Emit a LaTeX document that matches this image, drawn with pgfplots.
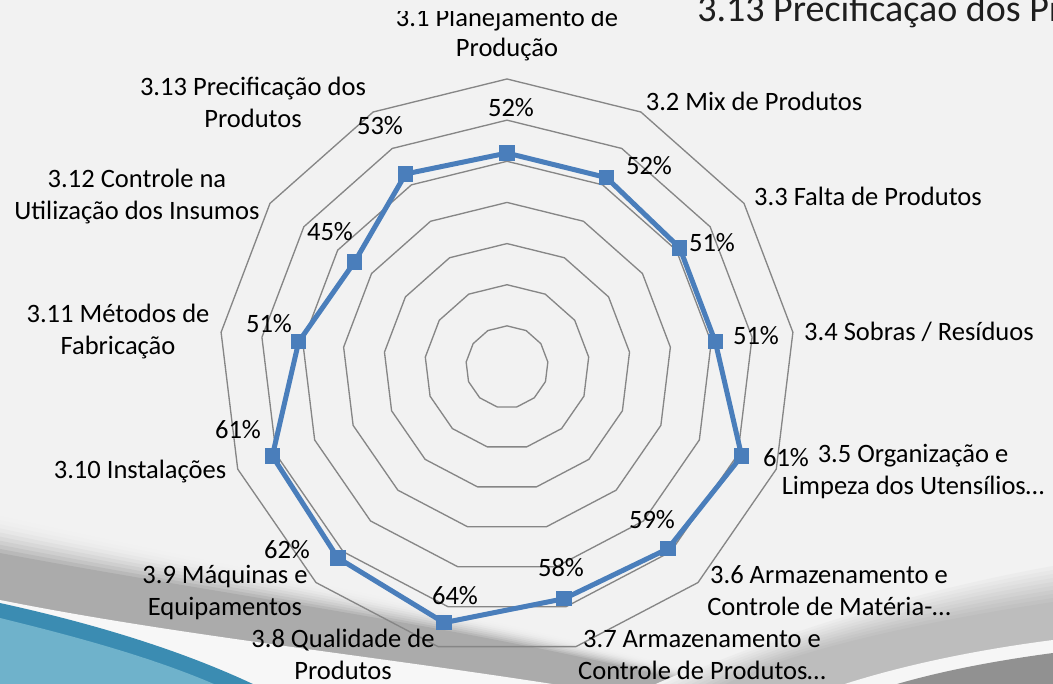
\documentclass[border=0pt]{standalone}
\usepackage{fontspec}
\setmainfont{Carlito}
\usepackage{pgfplots}
\pgfplotsset{compat=1.18}
\usepgfplotslibrary{polar}
\definecolor{bg}{HTML}{F2F2F2}
\definecolor{swgray}{HTML}{ABABAB}
\definecolor{dblue}{HTML}{3B8CB2}
\definecolor{lblue}{HTML}{6FB2CB}
\definecolor{ringc}{HTML}{868686}
\definecolor{serc}{HTML}{4A7EBB}
\definecolor{titc}{HTML}{1E1E1E}
\newcommand\lbl{\fontsize{19.9}{24}\selectfont}
\begin{document}
\begin{tikzpicture}
\useasboundingbox (0,0) rectangle (789.75pt,-513pt);
\clip (0,0) rectangle (789.75pt,-513pt);
\begin{scope}[x=0.75pt,y=-0.75pt]
\fill[bg] (0,0) rectangle (1053,684);
% left grey swoosh with soft shadow
\foreach \i in {0,...,10}{
  \pgfmathsetmacro\t{\i/10}
  \pgfmathtruncatemacro\p{100-100*\t*\t}
  \pgfmathsetmacro\ya{512+41*\t}
  \pgfmathsetmacro\yb{570+30*\t}
  \pgfmathsetmacro\yc{612+18*\t}
  \pgfmathsetmacro\xd{800-40*\t}
  \fill[bg!\p!swgray] (0,\ya) .. controls (250,\yb) and (500,\yc) .. (\xd,700) -- (0,700) -- cycle;
}
\fill[bg!60!white] (0,600) .. controls (200,640) and (420,660) .. (650,700) -- (0,700) -- cycle;
\fill[dblue] (0,603) .. controls (100,625) and (200,655) .. (285,700) -- (0,700) -- cycle;
\fill[lblue] (0,618) .. controls (90,640) and (180,665) .. (248,700) -- (0,700) -- cycle;
% right grey swoosh
\foreach \i in {0,...,10}{
  \pgfmathsetmacro\t{\i/10}
  \pgfmathtruncatemacro\p{100-75*\t}
  \pgfmathsetmacro\ya{562+40*\t}
  \pgfmathsetmacro\yb{590+35*\t}
  \pgfmathsetmacro\yc{640+20*\t}
  \pgfmathsetmacro\xd{620+80*\t}
  \fill[bg!\p!swgray] (1053,\ya) .. controls (900,\yb) and (750,\yc) .. (\xd,700) -- (1053,700) -- cycle;
}
\fill[bg!70!white] (1053,640) .. controls (960,652) and (870,672) .. (800,700) -- (1053,700) -- cycle;
\fill[swgray!85!black] (1053,653) .. controls (970,664) and (900,680) .. (850,700) -- (1053,700) -- cycle;
\end{scope}
\begin{polaraxis}[
  at={(380.25pt,-275.25pt)}, anchor=origin,
  width=432pt, height=432pt, scale only axis,
  xmin=0, xmax=360, ymin=0, ymax=70,
  hide axis, clip=false,
]
\pgfplotsinvokeforeach{10,20,30,40,50,60,70}{
\addplot[ringc, line width=1pt, no marks] coordinates {(90,#1) (62.3077,#1) (34.6154,#1) (6.9231,#1) (339.2308,#1) (311.5385,#1) (283.8462,#1) (256.1538,#1) (228.4615,#1) (200.7692,#1) (173.0769,#1) (145.3846,#1) (117.6923,#1) (90,#1)};
}
\addplot[serc, line width=3.75pt, line join=round, mark=square*, mark size=5.4pt, mark options={solid, fill=serc, line width=0pt}] coordinates {(90,52) (62.3077,52) (34.6154,51) (6.9231,51) (339.2308,61) (311.5385,59) (283.8462,58) (256.1538,64) (228.4615,62) (200.7692,61) (173.0769,51) (145.3846,45) (117.6923,53) (90,52)};
\end{polaraxis}
\begin{scope}[x=0.75pt,y=-0.75pt]
% data labels
\begin{scope}[every node/.style={font=\lbl, inner sep=0pt}]
\node at (511,108) {52\%};
\node at (649,166) {52\%};
\node at (712,243) {51\%};
\node at (756,336) {51\%};
\node at (786,458) {61\%};
\node at (652,520) {59\%};
\node at (561,568) {58\%};
\node at (455,596) {64\%};
\node at (287,550) {62\%};
\node at (238,430) {61\%};
\node at (269,324) {51\%};
\node at (330,232) {45\%};
\node at (380,126) {53\%};
% category labels
\begin{scope}
\clip (0,11.5) rectangle (1053,684);
\node[anchor=base] at (507,26.5) {3.1 Planejamento de};
\end{scope}
\node[anchor=base] at (507,57) {Produção};
\begin{scope}[every node/.append style={align=center}]
\node at (754,101) {3.2 Mix de Produtos};
\node at (868,196) {3.3 Falta de Produtos};
\node at (919,332) {3.4 Sobras / Resíduos};
\node at (913,472) {3.5 Organização e\\Limpeza dos Utensílios…};
\node at (829,591) {3.6 Armazenamento e\\Controle de Matéria-…};
\node at (702,655) {3.7 Armazenamento e\\Controle de Produtos…};
\node at (343,654) {3.8 Qualidade de\\Produtos};
\node at (225,593) {3.9 Máquinas e\\Equipamentos};
\node at (140,472) {3.10 Instalações};
\node at (118,332) {3.11 Métodos de\\Fabricação};
\node at (137,197) {3.12 Controle na\\Utilização dos Insumos};
\node at (253,102) {3.13 Precificação dos\\Produtos};
\end{scope}
\end{scope}
\node[font=\fontsize{28.5}{34}\selectfont, text=titc, anchor=base west, inner sep=0pt] at (697,21.5) {3.13 Precificação dos Produtos};
\end{scope}
\end{tikzpicture}
\end{document}
